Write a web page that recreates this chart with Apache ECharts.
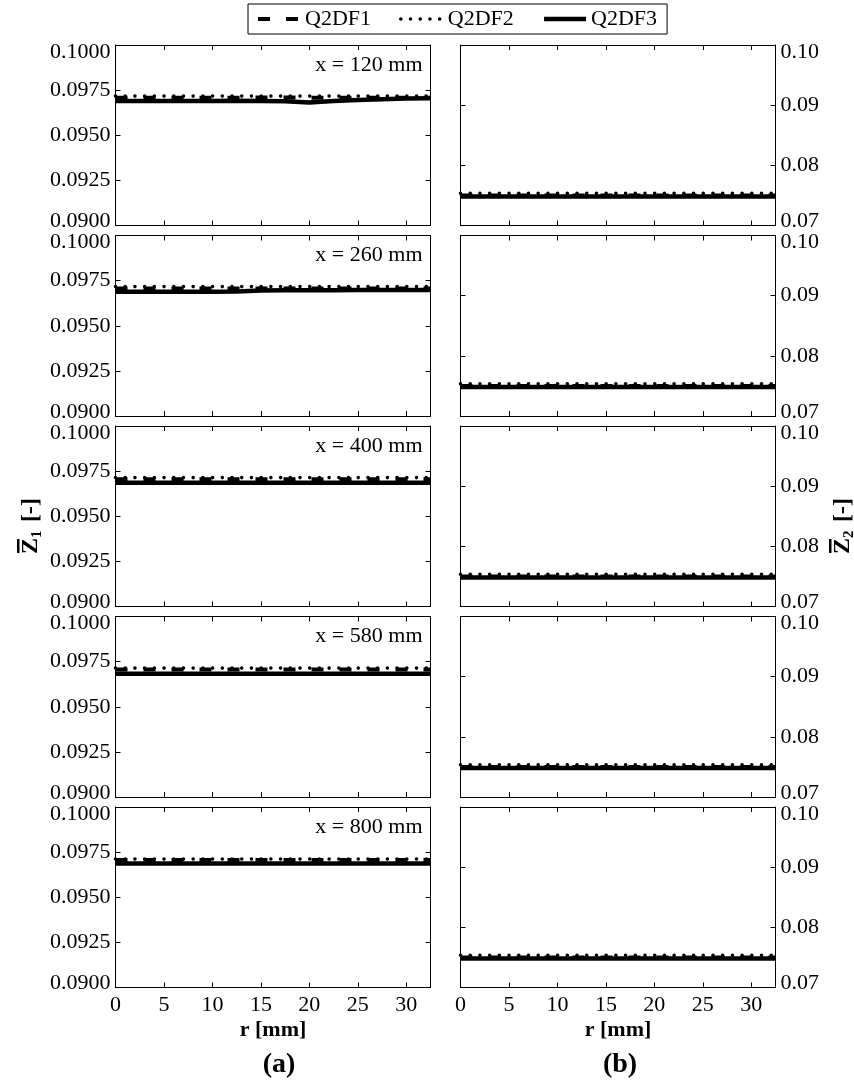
<!DOCTYPE html>
<html>
<head>
<meta charset="utf-8">
<script src="https://cdn.jsdelivr.net/npm/echarts@6/dist/echarts.min.js"></script>
<style>
  html, body { margin: 0; padding: 0; background: #fff; }
  #chart { width: 854px; height: 1085px; }
</style>
</head>
<body>
<div id="chart"></div>
<script>
// Axial measuring stations (mm) and radial sample positions (mm)
const stations = [120, 260, 400, 580, 800];
const r = [0, 2.5, 5, 7.5, 10, 12.5, 15, 17.5, 20, 22.5, 25, 27.5, 30, 32.5];
const seriesNames = ['Q2DF1', 'Q2DF2', 'Q2DF3'];
const panelTags = ['(a)', '(b)'];

// Axis ranges / tick steps
const rAxis = { min: 0, max: 32.5, step: 5 };
const z1Axis = { min: 0.09, max: 0.1, step: 0.0025, digits: 4 };
const z2Axis = { min: 0.07, max: 0.1, step: 0.01, digits: 2 };

// Mean Z1, one row per station
const z1Q2DF1 = [
  [0.09708, 0.09708, 0.09708, 0.09708, 0.09708, 0.09708, 0.09709, 0.09709, 0.09708, 0.09708, 0.09708, 0.09708, 0.09708, 0.09708],
  [0.09706, 0.09706, 0.09706, 0.09706, 0.09706, 0.09706, 0.09706, 0.09706, 0.09706, 0.09706, 0.09706, 0.09706, 0.09706, 0.09706],
  [0.09705, 0.09705, 0.09705, 0.09705, 0.09705, 0.09705, 0.09705, 0.09705, 0.09705, 0.09705, 0.09705, 0.09705, 0.09705, 0.09705],
  [0.09706, 0.09706, 0.09706, 0.09706, 0.09706, 0.09706, 0.09706, 0.09706, 0.09706, 0.09706, 0.09706, 0.09706, 0.09706, 0.09706],
  [0.09707, 0.09707, 0.09707, 0.09707, 0.09707, 0.09707, 0.09707, 0.09707, 0.09707, 0.09707, 0.09707, 0.09707, 0.09707, 0.09707]
];
const z1Q2DF2 = [
  [0.09717, 0.09717, 0.09717, 0.09717, 0.09717, 0.09717, 0.09717, 0.09717, 0.09717, 0.09717, 0.09717, 0.09717, 0.09717, 0.09717],
  [0.09717, 0.09717, 0.09717, 0.09717, 0.09717, 0.09717, 0.09717, 0.09717, 0.09717, 0.09717, 0.09717, 0.09717, 0.09717, 0.09717],
  [0.09714, 0.09714, 0.09714, 0.09714, 0.09714, 0.09714, 0.09714, 0.09714, 0.09714, 0.09714, 0.09714, 0.09714, 0.09714, 0.09714],
  [0.09714, 0.09714, 0.09714, 0.09714, 0.09714, 0.09714, 0.09714, 0.09714, 0.09714, 0.09714, 0.09714, 0.09714, 0.09714, 0.09714],
  [0.09712, 0.09712, 0.09712, 0.09712, 0.09712, 0.09712, 0.09712, 0.09712, 0.09712, 0.09712, 0.09712, 0.09712, 0.09712, 0.09712]
];
const z1Q2DF3 = [
  [0.09690, 0.09690, 0.09690, 0.09690, 0.09690, 0.09691, 0.09690, 0.09688, 0.09682, 0.09690, 0.09695, 0.09699, 0.09703, 0.09705],
  [0.09688, 0.09688, 0.09688, 0.09688, 0.09689, 0.09690, 0.09695, 0.09697, 0.09697, 0.09697, 0.09698, 0.09698, 0.09698, 0.09698],
  [0.09685, 0.09685, 0.09685, 0.09685, 0.09685, 0.09685, 0.09685, 0.09685, 0.09685, 0.09685, 0.09685, 0.09685, 0.09685, 0.09685],
  [0.09683, 0.09683, 0.09683, 0.09683, 0.09683, 0.09683, 0.09683, 0.09683, 0.09683, 0.09683, 0.09683, 0.09683, 0.09683, 0.09683],
  [0.09687, 0.09687, 0.09687, 0.09687, 0.09687, 0.09687, 0.09687, 0.09687, 0.09687, 0.09687, 0.09687, 0.09687, 0.09687, 0.09687]
];

// Mean Z2, one row per station
const z2Q2DF1 = [
  [0.07500, 0.07500, 0.07500, 0.07500, 0.07500, 0.07500, 0.07500, 0.07500, 0.07500, 0.07500, 0.07500, 0.07500, 0.07500, 0.07500],
  [0.07500, 0.07500, 0.07500, 0.07500, 0.07500, 0.07500, 0.07500, 0.07500, 0.07500, 0.07500, 0.07500, 0.07500, 0.07500, 0.07500],
  [0.07500, 0.07500, 0.07500, 0.07500, 0.07500, 0.07500, 0.07500, 0.07500, 0.07500, 0.07500, 0.07500, 0.07500, 0.07500, 0.07500],
  [0.07500, 0.07500, 0.07500, 0.07500, 0.07500, 0.07500, 0.07500, 0.07500, 0.07500, 0.07500, 0.07500, 0.07500, 0.07500, 0.07500],
  [0.07500, 0.07500, 0.07500, 0.07500, 0.07500, 0.07500, 0.07500, 0.07500, 0.07500, 0.07500, 0.07500, 0.07500, 0.07500, 0.07500]
];
const z2Q2DF2 = [
  [0.07535, 0.07535, 0.07535, 0.07535, 0.07535, 0.07535, 0.07535, 0.07535, 0.07535, 0.07535, 0.07535, 0.07535, 0.07535, 0.07535],
  [0.07535, 0.07535, 0.07535, 0.07535, 0.07535, 0.07535, 0.07535, 0.07535, 0.07535, 0.07535, 0.07535, 0.07535, 0.07535, 0.07535],
  [0.07535, 0.07535, 0.07535, 0.07535, 0.07535, 0.07535, 0.07535, 0.07535, 0.07535, 0.07535, 0.07535, 0.07535, 0.07535, 0.07535],
  [0.07535, 0.07535, 0.07535, 0.07535, 0.07535, 0.07535, 0.07535, 0.07535, 0.07535, 0.07535, 0.07535, 0.07535, 0.07535, 0.07535],
  [0.07535, 0.07535, 0.07535, 0.07535, 0.07535, 0.07535, 0.07535, 0.07535, 0.07535, 0.07535, 0.07535, 0.07535, 0.07535, 0.07535]
];
const z2Q2DF3 = [
  [0.07482, 0.07482, 0.07482, 0.07482, 0.07482, 0.07482, 0.07482, 0.07482, 0.07482, 0.07482, 0.07482, 0.07482, 0.07482, 0.07482],
  [0.07482, 0.07482, 0.07482, 0.07482, 0.07482, 0.07482, 0.07482, 0.07482, 0.07482, 0.07482, 0.07482, 0.07482, 0.07482, 0.07482],
  [0.07482, 0.07482, 0.07482, 0.07482, 0.07482, 0.07482, 0.07482, 0.07482, 0.07482, 0.07482, 0.07482, 0.07482, 0.07482, 0.07482],
  [0.07482, 0.07482, 0.07482, 0.07482, 0.07482, 0.07482, 0.07482, 0.07482, 0.07482, 0.07482, 0.07482, 0.07482, 0.07482, 0.07482],
  [0.07482, 0.07482, 0.07482, 0.07482, 0.07482, 0.07482, 0.07482, 0.07482, 0.07482, 0.07482, 0.07482, 0.07482, 0.07482, 0.07482]
];

const FONT = '"Liberation Serif", "Times New Roman", serif';
const INK = '#000';

// Line appearance per model
const lineStyles = {
  Q2DF1: { width: 4, type: [12, 16], cap: 'butt', z: 3 },
  Q2DF2: { width: 3.6, type: [0.01, 9.7], cap: 'round', z: 4 },
  Q2DF3: { width: 4.5, type: 'solid', cap: 'butt', z: 2 }
};

// Panel layout (pixels)
const colLeft = [115.5, 460.5];
const colWidth = 315;
const rowTop0 = 45, rowStep = 190.5, rowHeight = 180.5;

const chart = echarts.init(document.getElementById('chart'), null, { renderer: 'canvas' });

const grid = [], xAxis = [], yAxis = [], series = [], graphic = [];

function tickLabelFormatter(ax) {
  return function (v) {
    const s = v.toFixed(ax.digits);
    if (Math.abs(v - ax.max) < 1e-9) return '{top|' + s + '}';
    if (Math.abs(v - ax.min) < 1e-9) return '{bot|' + s + '}';
    return s;
  };
}

function labelRich() {
  return {
    top: { fontFamily: FONT, fontSize: 22, color: INK, padding: [14, 0, 0, 0] },
    bot: { fontFamily: FONT, fontSize: 22, color: INK, padding: [0, 0, 8, 0] }
  };
}

const frame = { show: true, onZero: false, lineStyle: { color: INK, width: 1 } };
const tick = { show: true, inside: true, length: 5, lineStyle: { color: INK, width: 1 } };

const datasets = [
  { Q2DF1: z1Q2DF1, Q2DF2: z1Q2DF2, Q2DF3: z1Q2DF3, ax: z1Axis },
  { Q2DF1: z2Q2DF1, Q2DF2: z2Q2DF2, Q2DF3: z2Q2DF3, ax: z2Axis }
];

for (let col = 0; col < 2; col++) {
  for (let row = 0; row < stations.length; row++) {
    const g = grid.length;
    const top = rowTop0 + row * rowStep;
    grid.push({ left: colLeft[col], top: top, width: colWidth, height: rowHeight });
    const bottomRow = row === stations.length - 1;
    const ax = datasets[col].ax;

    // bottom x axis (labelled on last row) and mirrored top x axis
    xAxis.push({
      type: 'value', gridIndex: g, position: 'bottom',
      min: rAxis.min, max: rAxis.max, interval: rAxis.step,
      axisLine: frame, axisTick: tick, splitLine: { show: false },
      axisLabel: {
        show: bottomRow, showMaxLabel: false, margin: 7,
        fontFamily: FONT, fontSize: 22, color: INK
      },
      name: bottomRow ? 'r [mm]' : '', nameLocation: 'middle', nameGap: 32,
      nameTextStyle: { fontFamily: FONT, fontSize: 22, fontWeight: 'bold', color: INK }
    });
    xAxis.push({
      type: 'value', gridIndex: g, position: 'top',
      min: rAxis.min, max: rAxis.max, interval: rAxis.step,
      axisLine: frame, axisTick: tick, splitLine: { show: false },
      axisLabel: { show: false }
    });

    const labelSide = col === 0 ? 'left' : 'right';
    const otherSide = col === 0 ? 'right' : 'left';
    yAxis.push({
      type: 'value', gridIndex: g, position: labelSide,
      min: ax.min, max: ax.max, interval: ax.step,
      axisLine: frame, axisTick: tick, splitLine: { show: false },
      axisLabel: {
        margin: 5, fontFamily: FONT, fontSize: 22, color: INK,
        formatter: tickLabelFormatter(ax), rich: labelRich()
      }
    });
    yAxis.push({
      type: 'value', gridIndex: g, position: otherSide,
      min: ax.min, max: ax.max, interval: ax.step,
      axisLine: frame, axisTick: tick, splitLine: { show: false },
      axisLabel: { show: false }
    });

    seriesNames.forEach(function (name) {
      const st = lineStyles[name];
      const vals = datasets[col][name][row];
      series.push({
        type: 'line', name: name,
        xAxisIndex: 2 * g, yAxisIndex: 2 * g,
        data: r.map(function (rv, i) { return [rv, vals[i]]; }),
        symbol: 'none', showSymbol: false, smooth: false,
        z: st.z, silent: true, animation: false,
        itemStyle: { color: INK },
        lineStyle: { color: INK, width: st.width, type: st.type, cap: st.cap }
      });
    });

    if (col === 0) {
      graphic.push({
        type: 'text',
        x: colLeft[0] + colWidth - 8, y: top + 20,
        style: {
          text: 'x = ' + stations[row] + ' mm', fontFamily: FONT, fontSize: 22, fill: INK,
          align: 'right', verticalAlign: 'middle'
        }
      });
    }
  }
}

// panel tags under each column
panelTags.forEach(function (t, i) {
  graphic.push({
    type: 'text', x: [279, 620][i], y: 1065,
    style: { text: t, fontFamily: FONT, fontSize: 28, fontWeight: 'bold', fill: INK, align: 'center', verticalAlign: 'middle' }
  });
});

// Rotated y-axis titles with overbar and subscript
function yTitle(cx, cy, sub) {
  return {
    type: 'group', x: cx, y: cy, rotation: Math.PI / 2,
    children: [
      { type: 'text', x: -29, y: 0, style: { text: 'Z', fontFamily: FONT, fontSize: 24, fontWeight: 'bold', fill: INK, align: 'left', verticalAlign: 'middle' } },
      { type: 'rect', shape: { x: -28, y: -14, width: 14, height: 2.5 }, style: { fill: INK } },
      { type: 'text', x: -13, y: 6, style: { text: sub, fontFamily: FONT, fontSize: 15, fontWeight: 'bold', fill: INK, align: 'left', verticalAlign: 'middle' } },
      { type: 'text', x: 3, y: 0, style: { text: '[-]', fontFamily: FONT, fontSize: 24, fontWeight: 'bold', fill: INK, align: 'left', verticalAlign: 'middle' } }
    ]
  };
}
graphic.push(yTitle(31, 525, '1'));
graphic.push(yTitle(843, 525, '2'));

chart.setOption({
  animation: false,
  backgroundColor: '#fff',
  legend: {
    data: seriesNames.map(function (name) {
      const st = lineStyles[name];
      return { name: name, lineStyle: { color: INK, width: st.width, type: st.type, cap: st.cap } };
    }),
    left: 248, top: 4,
    padding: [4, 10, 4, 8],
    itemWidth: 42, itemHeight: 14, itemGap: 28,
    borderColor: INK, borderWidth: 1, borderRadius: 0,
    itemStyle: { opacity: 0 },
    textStyle: { fontFamily: FONT, fontSize: 22, color: INK },
    selectedMode: false
  },
  grid: grid,
  xAxis: xAxis,
  yAxis: yAxis,
  series: series,
  graphic: graphic
});
</script>
</body>
</html>
